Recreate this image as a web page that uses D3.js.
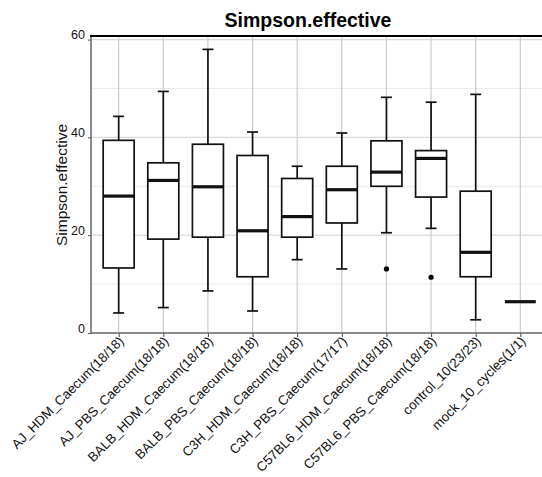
<!DOCTYPE html>
<html><head><meta charset="utf-8">
<script src="https://cdn.jsdelivr.net/npm/d3@7"></script>
<style>body{margin:0;background:#fff}svg{display:block}text{font-family:"Liberation Sans",Arial,sans-serif}</style>
</head><body><svg id="c" width="542" height="477"></svg>
<script>
const categories = ["AJ_HDM_Caecum(18/18)","AJ_PBS_Caecum(18/18)","BALB_HDM_Caecum(18/18)","BALB_PBS_Caecum(18/18)","C3H_HDM_Caecum(18/18)","C3H_PBS_Caecum(17/17)","C57BL6_HDM_Caecum(18/18)","C57BL6_PBS_Caecum(18/18)","control_10(23/23)","mock_10_cycles(1/1)"];
const whiskerLow  = [4.1, 5.2, 8.6, 4.5, 15.0, 13.1, 20.5, 21.4, 2.7, 6.4];
const q1          = [13.3, 19.2, 19.6, 11.5, 19.6, 22.5, 30.0, 27.8, 11.5, 6.4];
const median      = [28.0, 31.2, 29.9, 20.9, 23.8, 29.3, 32.9, 35.7, 16.5, 6.4];
const q3          = [39.4, 34.8, 38.6, 36.3, 31.6, 34.1, 39.3, 37.3, 29.0, 6.4];
const whiskerHigh = [44.3, 49.4, 58.0, 41.1, 34.1, 40.9, 48.2, 47.2, 48.8, 6.4];
const outliers    = [[], [], [], [], [], [], [13.1], [11.4], [], []];
const yTicks = [0, 20, 40, 60];
const yMinor = [10, 30, 50];

const svg = d3.select("#c");
const L = 91, R = 548, T = 36, B = 333;
const x = d3.scalePoint().domain(categories).range([L, R]).padding(0.62);
const y = d3.scaleLinear().domain([0, 60]).range([B, 39.6]);
const bw = 31, cap = 11;

const g = svg.append("g");
g.selectAll(".mn").data(yMinor).join("line")
  .attr("x1", L).attr("x2", 542).attr("y1", d => y(d)).attr("y2", d => y(d))
  .attr("stroke", "#ebebeb").attr("stroke-width", 1);
g.selectAll(".mj").data(yTicks.filter(d => d > 0)).join("line")
  .attr("x1", L).attr("x2", 542).attr("y1", d => y(d)).attr("y2", d => y(d))
  .attr("stroke", "#d9d9d9").attr("stroke-width", 1.2);
g.selectAll(".vg").data(categories).join("line")
  .attr("x1", d => x(d)).attr("x2", d => x(d)).attr("y1", T).attr("y2", B)
  .attr("stroke", "#cccccc").attr("stroke-width", 1.2);

const yAxis = d3.axisLeft(y).tickValues(yTicks).tickSize(3).tickPadding(3);
const ya = svg.append("g").attr("transform", `translate(${L},0)`).call(yAxis);
ya.select(".domain").remove();
ya.selectAll("line").attr("stroke", "#555");
ya.selectAll("text").attr("font-size", 12.5).attr("fill", "#111").attr("dy", "-0.05em");

const xAxis = d3.axisBottom(x).tickSize(4).tickFormat("");
const xa = svg.append("g").attr("transform", `translate(0,${B})`).call(xAxis);
xa.select(".domain").remove();
xa.selectAll("line").attr("stroke", "#444");

svg.append("line").attr("x1", L).attr("x2", L).attr("y1", T).attr("y2", B + 1).attr("stroke", "#666").attr("stroke-width", 1.5);
svg.append("line").attr("x1", L - 1).attr("x2", 542).attr("y1", B).attr("y2", B).attr("stroke", "#666").attr("stroke-width", 1.5);
svg.append("line").attr("x1", L - 1).attr("x2", 542).attr("y1", T).attr("y2", T).attr("stroke", "#000").attr("stroke-width", 2);

svg.append("g").selectAll("text").data(categories).join("text")
  .attr("transform", d => `translate(${x(d) + 6},${B + 9}) rotate(-45)`)
  .attr("text-anchor", "end").attr("font-size", 13.3).attr("fill", "#111")
  .text(d => d);

const bx = svg.append("g").attr("stroke", "#111").attr("fill", "none");
categories.forEach((c, i) => {
  const cx = x(c);
  if (q3[i] > q1[i]) {
    bx.append("line").attr("x1", cx).attr("x2", cx).attr("y1", y(q3[i])).attr("y2", y(whiskerHigh[i])).attr("stroke-width", 1.7);
    bx.append("line").attr("x1", cx).attr("x2", cx).attr("y1", y(q1[i])).attr("y2", y(whiskerLow[i])).attr("stroke-width", 1.7);
    bx.append("line").attr("x1", cx - cap/2).attr("x2", cx + cap/2).attr("y1", y(whiskerHigh[i])).attr("y2", y(whiskerHigh[i])).attr("stroke-width", 1.7);
    bx.append("line").attr("x1", cx - cap/2).attr("x2", cx + cap/2).attr("y1", y(whiskerLow[i])).attr("y2", y(whiskerLow[i])).attr("stroke-width", 1.7);
    bx.append("rect").attr("x", cx - bw/2).attr("width", bw).attr("y", y(q3[i])).attr("height", y(q1[i]) - y(q3[i]))
      .attr("fill", "#fff").attr("stroke-width", 1.7);
  }
  bx.append("line").attr("x1", cx - bw/2).attr("x2", cx + bw/2).attr("y1", y(median[i])).attr("y2", y(median[i])).attr("stroke-width", 3.2);
  outliers[i].forEach(o => {
    svg.append("circle").attr("cx", cx).attr("cy", y(o)).attr("r", 2.6).attr("fill", "#000");
  });
});

svg.append("text").attr("x", 308).attr("y", 27).attr("text-anchor", "middle")
  .attr("font-size", 19.5).attr("font-weight", "bold").attr("fill", "#000").text("Simpson.effective");
svg.append("text").attr("transform", `translate(67,185) rotate(-90)`).attr("text-anchor", "middle")
  .attr("font-size", 15.5).attr("fill", "#111").text("Simpson.effective");
</script></body></html>
